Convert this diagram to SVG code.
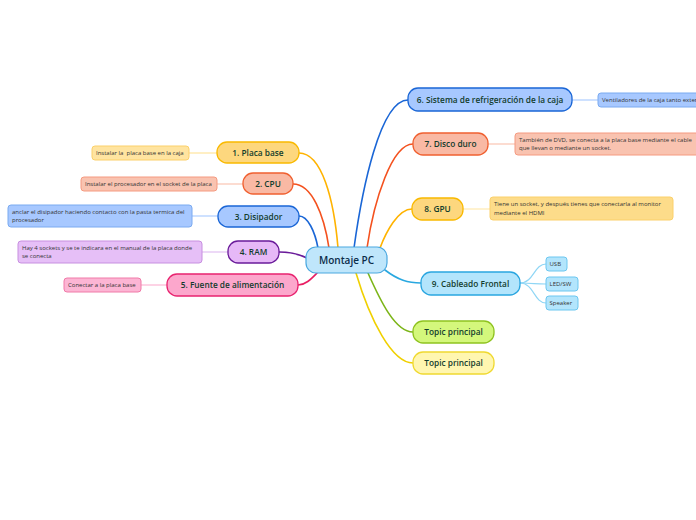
<svg xmlns="http://www.w3.org/2000/svg" width="696" height="520" viewBox="0 0 696 520">
<style>
.node text{font-family:"Open Sans","Noto Sans","Liberation Sans",sans-serif;font-weight:600;font-size:8.3px;fill:#123c2c;text-anchor:middle}
.root text{font-family:"Open Sans","Noto Sans","Liberation Sans",sans-serif;font-weight:600;font-size:10px;fill:#0b2d4a;text-anchor:middle}
.sub text{font-family:"Open Sans","Noto Sans","Liberation Sans",sans-serif;font-size:6px;fill:#333333}
.conn path,.conn line{fill:none;stroke-width:1.6;stroke-linecap:round}
.leaf line,.leaf path{fill:none;stroke-width:1.2}
.main{stroke-width:1.3}
.small{stroke-width:1}
</style>
<rect width="696" height="520" fill="#ffffff"/>
<g id="connectors" class="conn">
  <path d="M299,153 C322,153 334,200 338,248" stroke="#ffb300"/>
  <path d="M293,184 C312,184 324,215 329,248" stroke="#f4511e"/>
  <path d="M299,216 C308,216 315,232 318,248" stroke="#1a66d6"/>
  <path d="M279,252 C292,252 299,254 307,258" stroke="#6a1b9a"/>
  <path d="M298,285 C306,285 312,278 318,272" stroke="#e91e63"/>
  <path d="M408,100 C380,100 362,190 354,248" stroke="#1a66d6"/>
  <path d="M413,144 C392,144 374,200 367,248" stroke="#f4511e"/>
  <path d="M412,209 C398,209 386,232 380,248" stroke="#ffb300"/>
  <path d="M385,270 C398,280 408,283 421,283" stroke="#29a8e0"/>
  <path d="M368,273 C380,300 395,332 413,332" stroke="#7cb518"/>
  <path d="M356,273 C370,320 392,363 413,363" stroke="#f0d000"/>
  <g class="leaf">
    <line x1="189" y1="153" x2="217" y2="153" stroke="#ffe08a"/>
    <line x1="217" y1="184" x2="243" y2="184" stroke="#f9b9a4"/>
    <line x1="192" y1="216" x2="218" y2="216" stroke="#9ec3ff"/>
    <line x1="202" y1="252" x2="228" y2="252" stroke="#dbb3f0"/>
    <line x1="141" y1="285" x2="167" y2="285" stroke="#fca7cc"/>
    <line x1="572" y1="100" x2="598" y2="100" stroke="#9ec3ff"/>
    <line x1="488" y1="144" x2="515" y2="144" stroke="#f9b9a4"/>
    <line x1="463" y1="209" x2="490" y2="209" stroke="#ffe6a0"/>
    <path d="M520,283 C534,283 534,264 546,264" stroke="#8fd6f5"/>
    <path d="M520,283 C534,283 534,284 546,284" stroke="#8fd6f5"/>
    <path d="M520,283 C534,283 534,303 546,303" stroke="#8fd6f5"/>
  </g>
</g>
<g id="root" class="root">
  <rect x="306" y="247" width="81" height="26" rx="10" fill="#bfe6fb" stroke="#4aa8e0" stroke-width="1.2"/>
  <text x="346.5" y="264">Montaje PC</text>
</g>
<g id="n1" class="node">
  <rect x="217" y="142" width="82" height="21" rx="10" fill="#fdd77e" stroke="#f9b900" class="main"/>
  <text x="258" y="155.5">1. Placa base</text>
</g>
<g id="n1c" class="sub">
  <rect x="92" y="146" width="97" height="14" rx="3" fill="#ffe4a0" stroke="#fbd06a" class="small"/>
  <text x="96" y="155" xml:space="preserve">Instalar la  placa base en la caja</text>
</g>
<g id="n2" class="node">
  <rect x="243" y="173" width="50" height="21" rx="10" fill="#f9b9a4" stroke="#f06030" class="main"/>
  <text x="268" y="186.5">2. CPU</text>
</g>
<g id="n2c" class="sub">
  <rect x="81" y="177" width="136" height="14" rx="3" fill="#f9c3b0" stroke="#f59a80" class="small"/>
  <text x="85" y="186">Instalar el procesador en el socket de la placa</text>
</g>
<g id="n3" class="node">
  <rect x="218" y="206" width="81" height="21" rx="10" fill="#a7c8ff" stroke="#1a66d6" class="main"/>
  <text x="258.5" y="219.5">3. Disipador</text>
</g>
<g id="n3c" class="sub">
  <rect x="8" y="205" width="184" height="22" rx="3" fill="#a7c8ff" stroke="#7aaaf0" class="small"/>
  <text x="12" y="213.5">anclar el disipador haciendo contacto con la pasta termica del</text>
  <text x="12" y="222">procesador</text>
</g>
<g id="n4" class="node">
  <rect x="228" y="241" width="51" height="22" rx="10" fill="#e6b8f7" stroke="#6a1b9a" class="main"/>
  <text x="253.5" y="255">4. RAM</text>
</g>
<g id="n4c" class="sub">
  <rect x="18" y="241" width="184" height="22" rx="3" fill="#e6bff7" stroke="#c78fe0" class="small"/>
  <text x="22" y="249.5">Hay 4 sockets y se te indicara en el manual de la placa donde</text>
  <text x="22" y="258">se conecta</text>
</g>
<g id="n5" class="node">
  <rect x="167" y="274" width="131" height="22" rx="10" fill="#fca7cc" stroke="#e8236f" class="main"/>
  <text x="232.5" y="288">5. Fuente de alimentación</text>
</g>
<g id="n5c" class="sub">
  <rect x="64" y="278" width="77" height="14" rx="3" fill="#fcb5d4" stroke="#f07aa8" class="small"/>
  <text x="68" y="287">Conectar a la placa base</text>
</g>
<g id="n6" class="node">
  <rect x="408" y="88" width="164" height="23" rx="10" fill="#a7c8ff" stroke="#1a66d6" class="main"/>
  <text x="490" y="102.5">6. Sistema de refrigeración de la caja</text>
</g>
<g id="n6c" class="sub">
  <rect x="598" y="93" width="110" height="14" rx="3" fill="#a7c8ff" stroke="#7aaaf0" class="small"/>
  <text x="602" y="102">Ventiladores de la caja tanto exter</text>
</g>
<g id="n7" class="node">
  <rect x="413" y="133" width="75" height="22" rx="10" fill="#f9b9a4" stroke="#f06030" class="main"/>
  <text x="450.5" y="147">7. Disco duro</text>
</g>
<g id="n7c" class="sub">
  <rect x="515" y="133" width="190" height="22" rx="3" fill="#f9c3b0" stroke="#f59a80" class="small"/>
  <text x="519" y="141.5">También de DVD, se conecta a la placa base mediante el cable</text>
  <text x="519" y="150">que llevan o mediante un socket.</text>
</g>
<g id="n8" class="node">
  <rect x="412" y="198" width="51" height="22" rx="10" fill="#fdd77e" stroke="#f9b900" class="main"/>
  <text x="437.5" y="212">8. GPU</text>
</g>
<g id="n8c" class="sub">
  <rect x="490" y="197" width="183" height="23" rx="3" fill="#fddc8a" stroke="#fbd06a" class="small"/>
  <text x="494" y="206">Tiene un socket, y después tienes que conectarla al monitor</text>
  <text x="494" y="214.5">mediante el HDMI</text>
</g>
<g id="n9" class="node">
  <rect x="421" y="272" width="99" height="23" rx="10" fill="#b3e5fc" stroke="#2aa6e0" class="main"/>
  <text x="470.5" y="286.5">9. Cableado Frontal</text>
</g>
<g id="n9a" class="sub">
  <rect x="546" y="257" width="21" height="14" rx="3" fill="#b3e5fc" stroke="#6cc7f0" class="small"/>
  <text x="549.5" y="266">USB</text>
</g>
<g id="n9b" class="sub">
  <rect x="546" y="277" width="32" height="14" rx="3" fill="#b3e5fc" stroke="#6cc7f0" class="small"/>
  <text x="549.5" y="286">LED/SW</text>
</g>
<g id="n9c" class="sub">
  <rect x="546" y="296" width="32" height="14" rx="3" fill="#b3e5fc" stroke="#6cc7f0" class="small"/>
  <text x="549.5" y="305">Speaker</text>
</g>
<g id="n10" class="node">
  <rect x="413" y="321" width="81" height="22" rx="10" fill="#d4f77c" stroke="#8fc31f" class="main"/>
  <text x="453.5" y="335">Topic principal</text>
</g>
<g id="n11" class="node">
  <rect x="413" y="352" width="81" height="22" rx="10" fill="#fff6b0" stroke="#f0d930" class="main"/>
  <text x="453.5" y="366">Topic principal</text>
</g>
</svg>
